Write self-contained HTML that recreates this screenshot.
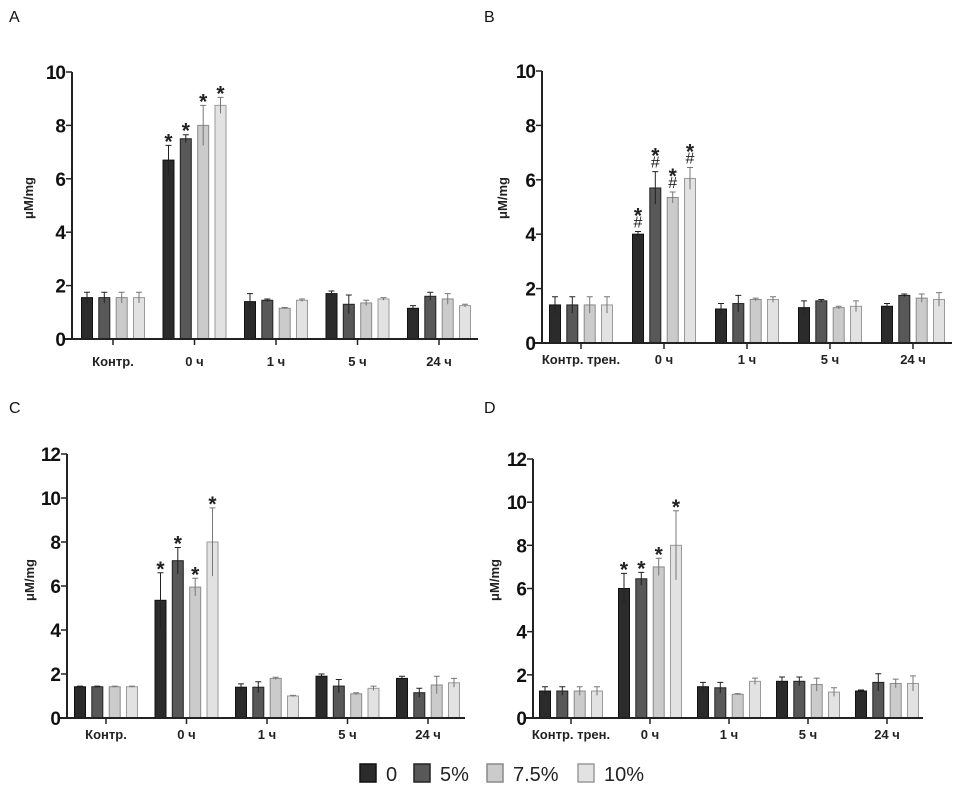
<!DOCTYPE html>
<html><head><meta charset="utf-8"><style>
body{margin:0;background:#fff;}
svg{display:block;font-family:"Liberation Sans",Arial,sans-serif;}
</style></head><body>
<svg id="fig" width="958" height="797" viewBox="0 0 958 797" xmlns="http://www.w3.org/2000/svg"></svg>
<script>
const categoriesA = ["Контр.","0 ч","1 ч","5 ч","24 ч"];
const categoriesB = ["Контр. трен.","0 ч","1 ч","5 ч","24 ч"];
const seriesNames = ["0","5%","7.5%","10%"];
const ticksA = [0,2,4,6,8,10];
const ticksC = [0,2,4,6,8,10,12];
// values [series][category]
const valuesA = [[1.55,6.7,1.4,1.7,1.15],[1.55,7.5,1.45,1.3,1.6],[1.55,8.0,1.15,1.35,1.5],[1.55,8.75,1.45,1.5,1.25]];
const errorsA = [[0.2,0.55,0.3,0.1,0.1],[0.2,0.15,0.05,0.35,0.15],[0.2,0.75,0.03,0.1,0.2],[0.2,0.3,0.05,0.05,0.05]];
const valuesB = [[1.4,4.0,1.25,1.3,1.35],[1.4,5.7,1.45,1.55,1.75],[1.4,5.35,1.6,1.3,1.65],[1.4,6.05,1.6,1.35,1.6]];
const errorsB = [[0.3,0.1,0.2,0.25,0.1],[0.3,0.6,0.3,0.05,0.05],[0.3,0.2,0.05,0.05,0.15],[0.3,0.4,0.1,0.2,0.25]];
const valuesC = [[1.42,5.35,1.4,1.9,1.8],[1.42,7.15,1.4,1.45,1.15],[1.42,5.95,1.8,1.1,1.5],[1.42,8.0,1.0,1.35,1.6]];
const errorsC = [[0.03,1.25,0.15,0.1,0.1],[0.03,0.6,0.25,0.3,0.2],[0.03,0.4,0.05,0.05,0.4],[0.03,1.55,0.03,0.1,0.2]];
const valuesD = [[1.25,6.0,1.45,1.7,1.25],[1.25,6.45,1.4,1.7,1.65],[1.25,7.0,1.1,1.55,1.6],[1.25,8.0,1.7,1.2,1.6]];
const errorsD = [[0.2,0.7,0.2,0.2,0.05],[0.2,0.3,0.25,0.2,0.4],[0.2,0.4,0.03,0.3,0.2],[0.2,1.6,0.15,0.2,0.35]];

const fills=["#2b2b2b","#585858","#cbcbcb","#e2e2e2"];
const strokes=["#111","#222","#8a8a8a","#9a9a9a"];
const NS="http://www.w3.org/2000/svg";
const svg=document.getElementById('fig');
function mk(tag,attrs,parent,text){const e=document.createElementNS(NS,tag);for(const k in attrs)e.setAttribute(k,attrs[k]);if(text!==undefined)e.textContent=text;(parent||svg).appendChild(e);return e;}

function panel(cfg){
  const g=mk('g',{});
  
  
  const y=v=>cfg.y0-(v/cfg.ymax)*(cfg.y0-cfg.ytop);
  const xc=i=>cfg.c0+i*cfg.step;
  const offs=[-26,-8.7,8.7,26];
  const L=mk('text',{x:cfg.lx,y:cfg.ly,'font-size':16,fill:'#111'},g,cfg.letter);
  
  for(let s=0;s<4;s++){for(let c=0;c<cfg.cats.length;c++){
    const v=cfg.vals[s][c],e=cfg.errs[s][c],cx=xc(c)+offs[s];
    const r=mk('rect',{x:cx-5.5,y:y(v),width:11,height:cfg.y0-y(v),fill:fills[s],stroke:strokes[s],'stroke-width':1},g);
    
    const col=s<2?'#222':'#777';
    const eb=mk('path',{d:`M${cx} ${y(v-e)}V${y(v+e)}M${cx-3} ${y(v+e)}H${cx+3}`,stroke:col,'stroke-width':1,fill:'none'},g);
    
    if(c===1){
      let ty=y(v+e)-4;
      if(cfg.hash){const h=mk('text',{x:cx,y:ty,'font-size':16,'text-anchor':'middle',fill:'#222'},g,'#');ty-=12;}
      const st=mk('text',{x:cx,y:ty+7,'font-size':21,'font-weight':'bold','text-anchor':'middle',fill:'#222'},g,'*');
      
    }
  }}
  const ax=mk('path',{d:`M${cfg.ax} ${cfg.ytop}V${cfg.y0}M${cfg.ax-7} ${cfg.y0}H${cfg.xend}`,stroke:'#222','stroke-width':2,fill:'none'},g);
  
  cfg.ticks.forEach(t=>{
    mk('path',{d:`M${cfg.ax-6} ${y(t)}H${cfg.ax}`,stroke:'#222','stroke-width':1.5},g);
    const tl=mk('text',{x:cfg.ax-7,y:y(t)+7,'font-size':19,'font-weight':'bold','text-anchor':'end',fill:'#111','letter-spacing':'-1'},g,String(t));
    
  });
  cfg.cats.forEach((c,i)=>{
    mk('path',{d:`M${xc(i)} ${cfg.y0}V${cfg.y0+6}`,stroke:'#222','stroke-width':1.5},g);
    const cl=mk('text',{x:xc(i),y:cfg.catY,'font-size':13,'font-weight':'bold','text-anchor':'middle',fill:'#222'},g,c);
    
  });
  const yt=mk('text',{x:0,y:0,'font-size':13,'font-weight':'bold','text-anchor':'middle',fill:'#222',transform:`translate(${cfg.ytx},${cfg.yty}) rotate(-90)`},g,'μM/mg');
  
}
panel({letter:'A',lx:9,ly:22,cats:categoriesA,vals:valuesA,errs:errorsA,ticks:ticksA,ymax:10,ytop:72,y0:339,ax:72,xend:478,c0:113,step:81.5,catY:366,ytx:33,yty:198,hash:false});
panel({letter:'B',lx:484,ly:22,cats:categoriesB,vals:valuesB,errs:errorsB,ticks:ticksA,ymax:10,ytop:71,y0:343,ax:542,xend:952,c0:581,step:83,catY:364,ytx:507,yty:198,hash:true});
panel({letter:'C',lx:9,ly:413,cats:categoriesA,vals:valuesC,errs:errorsC,ticks:ticksC,ymax:12,ytop:454,y0:718,ax:67,xend:465,c0:106,step:80.5,catY:739,ytx:34,yty:580,hash:false});
panel({letter:'D',lx:484,ly:413,cats:categoriesB,vals:valuesD,errs:errorsD,ticks:ticksC,ymax:12,ytop:459,y0:718,ax:533,xend:923,c0:571,step:79,catY:739,ytx:499,yty:580,hash:false});
const lg=mk('g',{});

const lx=[360,414,487,578];
seriesNames.forEach((n,i)=>{
  const e=mk('g',{},lg);
  
  mk('rect',{x:lx[i],y:764,width:16,height:18,fill:fills[i],stroke:strokes[i],'stroke-width':1.5},e);
  mk('text',{x:lx[i]+26,y:781,'font-size':20,fill:'#222'},e,n);
});
</script>
</body></html>
